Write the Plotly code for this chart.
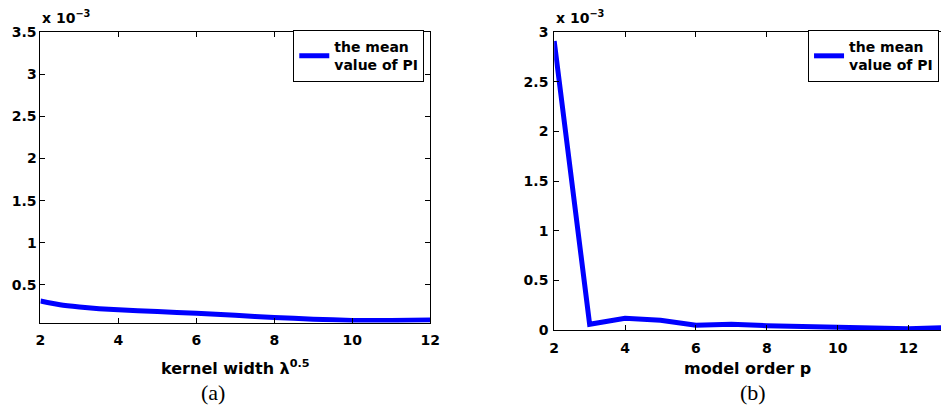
import plotly.graph_objects as go

# Panel (a): mean value of PI vs kernel width (values in units of 1e-3)
kernel_width = [2, 2.5, 3, 4, 5, 6, 7, 8, 9, 10, 11, 12]
pi_mean_a = [0.31, 0.265, 0.24, 0.205, 0.185, 0.165, 0.14, 0.115, 0.095, 0.08, 0.078, 0.085]

# Panel (b): mean value of PI vs model order (values in units of 1e-3)
model_order = [2, 3, 4, 5, 6, 7, 8, 9, 10, 11, 12, 13]
pi_mean_b = [2.91, 0.06, 0.12, 0.10, 0.05, 0.06, 0.045, 0.04, 0.025, 0.02, 0.015, 0.025]

xticks_a = [2, 4, 6, 8, 10, 12]
yticks_a = [0.5, 1, 1.5, 2, 2.5, 3, 3.5]
xticks_b = [2, 4, 6, 8, 10, 12]
yticks_b = [0, 0.5, 1, 1.5, 2, 2.5, 3]

W, H = 951, 419
def px(x):
    return x / W
def py(y):
    return 1 - y / H

def bold_labels(vals):
    return ["<b>%g</b>" % v for v in vals]

FONT = "DejaVu Sans"
BLUE = "#0000ff"
tickfont = dict(family=FONT, size=14, color="black")

fig = go.Figure()
fig.add_trace(go.Scatter(x=kernel_width, y=pi_mean_a, mode="lines",
                         line=dict(color=BLUE, width=5, shape="spline", smoothing=0.6),
                         name="<b>the mean<br>value of PI</b>", xaxis="x", yaxis="y",
                         legend="legend", cliponaxis=True))
fig.add_trace(go.Scatter(x=model_order, y=pi_mean_b, mode="lines",
                         line=dict(color=BLUE, width=5),
                         name="<b>the mean<br>value of PI</b>", xaxis="x2", yaxis="y2",
                         legend="legend2", cliponaxis=True))

axis_common = dict(showgrid=False, zeroline=False, showline=True, linecolor="black",
                   linewidth=1, ticks="inside", ticklen=5, tickwidth=1, tickcolor="black",
                   tickfont=tickfont)
titlefont = dict(family=FONT, size=16, color="black")

fig.update_layout(
    width=W, height=H,
    margin=dict(l=0, r=0, t=0, b=0),
    paper_bgcolor="white", plot_bgcolor="white",
    xaxis=dict(domain=[px(36), px(432)], range=[2, 12], tickvals=xticks_a,
               ticktext=bold_labels(xticks_a), ticklabelstandoff=5,
               anchor="y", mirror="ticks",
               title=dict(text="<b>kernel width λ<sup>0.5</sup></b>", font=titlefont,
                          standoff=15),
               **axis_common),
    yaxis=dict(domain=[py(327), py(25)], range=[0.055, 3.5], tickvals=yticks_a,
               ticktext=bold_labels(yticks_a), ticklabelstandoff=0,
               anchor="x", mirror="ticks", **axis_common),
    xaxis2=dict(domain=[px(558), 1.0], range=[2, 2 + (W - 558) / 36.0], tickvals=xticks_b,
                ticktext=bold_labels(xticks_b), ticklabelstandoff=5,
                anchor="y2", mirror="ticks",
                title=dict(text="<b>model order p</b>", font=titlefont, standoff=7),
                **axis_common),
    yaxis2=dict(domain=[py(335), py(25)], range=[0, 3], tickvals=yticks_b,
                ticktext=bold_labels(yticks_b), ticklabelstandoff=2,
                anchor="x2", mirror=False, **axis_common),
    yaxis3=dict(overlaying="y2", matches="y2", side="right", anchor="x2",
                showline=False, showgrid=False, zeroline=False, ticks="inside",
                ticklen=3, tickwidth=1, tickcolor="black", tickvals=yticks_b,
                showticklabels=False),
    legend=dict(x=px(426), y=py(23), xanchor="right", yanchor="top",
                bgcolor="white", bordercolor="black", borderwidth=1,
                font=dict(family=FONT, size=14, color="black")),
    legend2=dict(x=px(949), y=py(23), xanchor="right", yanchor="top",
                 bgcolor="white", bordercolor="black", borderwidth=1,
                 font=dict(family=FONT, size=14, color="black")),
    showlegend=True,
)

annfont = dict(family=FONT, size=14, color="black")
fig.add_annotation(x=px(36), y=py(21), xref="paper", yref="paper", xanchor="left",
                   yanchor="bottom", text="<b>x 10<sup>−3</sup></b>", showarrow=False, font=annfont)
fig.add_annotation(x=px(558), y=py(21), xref="paper", yref="paper", xanchor="left",
                   yanchor="bottom", text="<b>x 10<sup>−3</sup></b>", showarrow=False, font=annfont)

capfont = dict(family="Liberation Serif", size=22, color="black")
fig.add_annotation(x=px(211), y=py(400), xref="paper", yref="paper", xanchor="center",
                   yanchor="middle", text="(a)", showarrow=False, font=capfont)
fig.add_annotation(x=px(760), y=py(400), xref="paper", yref="paper", xanchor="center",
                   yanchor="middle", text="(b)", showarrow=False, font=capfont)

fig.write_html("out.html")
